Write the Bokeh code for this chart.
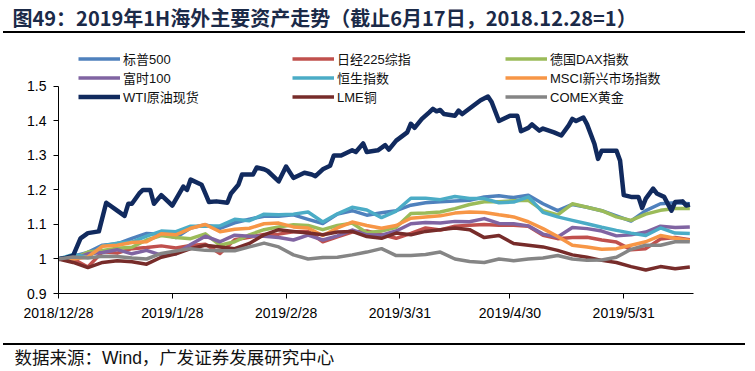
import pandas as pd
from bokeh.plotting import figure
from bokeh.models import (Range1d, FixedTicker, CustomJSTickFormatter, Legend,
                          LegendItem, ColumnDataSource, Div)
from bokeh.layouts import column
from bokeh.embed import file_html
from bokeh.resources import INLINE
from bokeh.core.properties import value

TITLE = "图49：2019年1H海外主要资产走势（截止6月17日，2018.12.28=1）"
SOURCE = "数据来源：Wind，广发证券发展研究中心"

grid_dates = [
    "2018-12-28", "2019-01-01", "2019-01-05", "2019-01-09", "2019-01-13", "2019-01-17", "2019-01-21", "2019-01-25", "2019-01-29", "2019-02-02", "2019-02-06",
    "2019-02-10", "2019-02-14", "2019-02-18", "2019-02-22", "2019-02-26", "2019-03-02", "2019-03-06", "2019-03-10", "2019-03-14", "2019-03-18", "2019-03-22",
    "2019-03-26", "2019-03-30", "2019-04-03", "2019-04-07", "2019-04-11", "2019-04-15", "2019-04-19", "2019-04-23", "2019-04-27", "2019-05-01", "2019-05-05",
    "2019-05-09", "2019-05-13", "2019-05-17", "2019-05-21", "2019-05-25", "2019-05-29", "2019-06-02", "2019-06-06", "2019-06-10", "2019-06-14", "2019-06-18",
]

sp500 = [
    1.000, 1.008, 1.019, 1.040, 1.044, 1.060, 1.074, 1.072, 1.062, 1.090, 1.099,
    1.089, 1.105, 1.115, 1.124, 1.124, 1.128, 1.115, 1.103, 1.130, 1.140, 1.127,
    1.134, 1.140, 1.156, 1.163, 1.166, 1.168, 1.170, 1.180, 1.183, 1.178, 1.185,
    1.160, 1.140, 1.158, 1.150, 1.140, 1.125, 1.110, 1.140, 1.160, 1.163, 1.160,
]
nikkei = [
    1.000, 1.000, 0.977, 1.021, 1.017, 1.030, 1.033, 1.038, 1.032, 1.039, 1.043,
    1.016, 1.056, 1.063, 1.071, 1.072, 1.079, 1.080, 1.050, 1.064, 1.078, 1.081,
    1.071, 1.060, 1.074, 1.090, 1.084, 1.095, 1.098, 1.100, 1.098, 1.098, 1.095,
    1.069, 1.059, 1.062, 1.063, 1.055, 1.049, 1.027, 1.030, 1.058, 1.062, 1.056,
]
dax = [
    1.000, 1.000, 1.020, 1.025, 1.031, 1.034, 1.055, 1.068, 1.062, 1.059, 1.073,
    1.040, 1.050, 1.070, 1.085, 1.093, 1.099, 1.097, 1.085, 1.097, 1.104, 1.076,
    1.081, 1.092, 1.132, 1.133, 1.136, 1.146, 1.158, 1.166, 1.166, 1.169, 1.170,
    1.140, 1.128, 1.160, 1.150, 1.140, 1.122, 1.112, 1.130, 1.141, 1.146, 1.146,
]
ftse = [
    1.000, 1.000, 1.015, 1.019, 1.027, 1.015, 1.025, 1.011, 1.015, 1.042, 1.066,
    1.050, 1.069, 1.066, 1.066, 1.062, 1.055, 1.069, 1.055, 1.067, 1.084, 1.070,
    1.069, 1.081, 1.102, 1.106, 1.104, 1.109, 1.108, 1.117, 1.103, 1.102, 1.096,
    1.072, 1.064, 1.091, 1.088, 1.081, 1.067, 1.070, 1.078, 1.095, 1.091, 1.093,
]
hsi = [
    1.000, 1.013, 1.005, 1.038, 1.046, 1.049, 1.066, 1.081, 1.079, 1.095, 1.095,
    1.096, 1.115, 1.111, 1.130, 1.128, 1.130, 1.136, 1.107, 1.131, 1.150, 1.142,
    1.120, 1.139, 1.176, 1.176, 1.172, 1.181, 1.175, 1.175, 1.163, 1.165, 1.180,
    1.135, 1.122, 1.112, 1.102, 1.092, 1.083, 1.075, 1.068, 1.090, 1.075, 1.074,
]
msci_em = [
    1.000, 1.000, 1.006, 1.037, 1.040, 1.048, 1.050, 1.073, 1.070, 1.089, 1.100,
    1.079, 1.086, 1.089, 1.102, 1.104, 1.093, 1.090, 1.068, 1.090, 1.107, 1.097,
    1.089, 1.097, 1.118, 1.122, 1.125, 1.133, 1.136, 1.135, 1.128, 1.122, 1.108,
    1.088, 1.065, 1.040, 1.035, 1.028, 1.030, 1.040, 1.050, 1.068, 1.060, 1.054,
]
lme_copper = [
    1.000, 0.990, 0.975, 0.990, 0.995, 0.992, 0.985, 1.005, 1.015, 1.030, 1.040,
    1.035, 1.030, 1.045, 1.070, 1.085, 1.080, 1.075, 1.070, 1.078, 1.080, 1.065,
    1.060, 1.075, 1.070, 1.080, 1.085, 1.090, 1.085, 1.062, 1.068, 1.045, 1.040,
    1.035, 1.025, 1.012, 1.005, 0.996, 0.990, 0.978, 0.968, 0.978, 0.972, 0.977,
]
comex_gold = [
    1.000, 1.006, 1.003, 1.008, 1.007, 1.003, 1.000, 1.016, 1.023, 1.030, 1.025,
    1.024, 1.024, 1.035, 1.046, 1.035, 1.012, 1.000, 1.004, 1.005, 1.012, 1.020,
    1.030, 1.010, 1.010, 1.013, 1.020, 1.000, 0.993, 0.990, 1.000, 0.995, 1.000,
    1.003, 1.010, 1.000, 0.996, 0.997, 1.005, 1.028, 1.040, 1.040, 1.050, 1.050,
]

wti_dates = [
    "2018-12-28", "2018-12-30", "2019-01-01", "2019-01-03", "2019-01-05", "2019-01-08", "2019-01-10", "2019-01-13", "2019-01-15", "2019-01-16",
    "2019-01-17", "2019-01-19", "2019-01-20", "2019-01-22", "2019-01-23", "2019-01-25", "2019-01-28", "2019-01-31", "2019-02-01", "2019-02-02",
    "2019-02-05", "2019-02-06", "2019-02-07", "2019-02-09", "2019-02-12", "2019-02-13", "2019-02-15", "2019-02-16", "2019-02-19", "2019-02-20",
    "2019-02-22", "2019-02-23", "2019-02-26", "2019-02-28", "2019-03-02", "2019-03-03", "2019-03-05", "2019-03-07", "2019-03-08", "2019-03-10",
    "2019-03-12", "2019-03-13", "2019-03-15", "2019-03-18", "2019-03-19", "2019-03-21", "2019-03-22", "2019-03-25", "2019-03-27", "2019-03-28",
    "2019-03-30", "2019-04-02", "2019-04-03", "2019-04-04", "2019-04-06", "2019-04-08", "2019-04-09", "2019-04-10", "2019-04-11", "2019-04-12",
    "2019-04-15", "2019-04-16", "2019-04-17", "2019-04-19", "2019-04-22", "2019-04-24", "2019-04-25", "2019-04-27", "2019-04-28", "2019-04-30",
    "2019-05-02", "2019-05-03", "2019-05-05", "2019-05-06", "2019-05-08", "2019-05-09", "2019-05-12", "2019-05-14", "2019-05-16", "2019-05-17",
    "2019-05-18", "2019-05-20", "2019-05-21", "2019-05-23", "2019-05-24", "2019-05-25", "2019-05-27", "2019-05-29", "2019-05-30", "2019-05-31",
    "2019-06-02", "2019-06-04", "2019-06-05", "2019-06-06", "2019-06-08", "2019-06-09", "2019-06-11", "2019-06-13", "2019-06-14", "2019-06-16",
    "2019-06-17", "2019-06-18",
]
wti_crude = [
    1.000, 1.003, 1.010, 1.060, 1.075, 1.080, 1.163, 1.140, 1.125, 1.160,
    1.160, 1.190, 1.200, 1.200, 1.160, 1.185, 1.155, 1.210, 1.200, 1.230,
    1.215, 1.190, 1.165, 1.167, 1.163, 1.190, 1.215, 1.245, 1.245, 1.265,
    1.260, 1.255, 1.225, 1.268, 1.235, 1.240, 1.250, 1.245, 1.240, 1.260,
    1.270, 1.300, 1.300, 1.315, 1.310, 1.335, 1.310, 1.315, 1.330, 1.317,
    1.343, 1.367, 1.392, 1.380, 1.406, 1.425, 1.435, 1.428, 1.432, 1.420,
    1.415, 1.430, 1.420, 1.436, 1.460, 1.471, 1.455, 1.400, 1.405, 1.415,
    1.415, 1.370, 1.380, 1.390, 1.372, 1.378, 1.367, 1.358, 1.387, 1.406,
    1.400, 1.410, 1.390, 1.334, 1.290, 1.314, 1.314, 1.314, 1.285, 1.185,
    1.180, 1.180, 1.148, 1.175, 1.204, 1.190, 1.180, 1.140, 1.165, 1.167,
    1.155, 1.158,
]

series_names = ["标普500", "日经225综指", "德国DAX指数", "富时100", "恒生指数",
                "MSCI新兴市场指数", "WTI原油现货", "LME铜", "COMEX黄金"]
series_colors = ["#4F81BD", "#C0504D", "#9BBB59", "#8064A2", "#4BACC6",
                 "#F79646", "#112A5E", "#772C2A", "#858585"]

x_tick_dates = ["2018-12-28", "2019-01-28", "2019-02-28", "2019-03-31", "2019-04-30", "2019-05-31"]
y_ticks = [0.9, 1.0, 1.1, 1.2, 1.3, 1.4, 1.5]
x_start, x_end = "2018-12-28", "2019-06-19"

W = 755
MIX = "Liberation Sans, Noto Sans CJK SC"
CJK = "Noto Sans CJK SC"


def no_align(f):
    try:
        f.frame_align = False
    except Exception:
        pass


def strip(height):
    f = figure(width=W, height=height, x_range=Range1d(0, W), y_range=Range1d(0, height),
               x_axis_location=None, y_axis_location=None, toolbar_location=None,
               output_backend="svg", min_border=0, outline_line_color=None)
    f.min_border_left = 0
    f.min_border_right = 0
    f.min_border_top = 0
    f.min_border_bottom = 0
    f.grid.visible = False
    no_align(f)
    return f


RULE_HTML = '<div style="height:0;width:742px;border-top:2px solid #000000;"></div>'


def rule():
    return Div(text=RULE_HTML, width=742, height=2, margin=(0, 10, 0, 3),
               styles={"background-color": "#000000"})


# ---------- title strip (31 px) + rule (2 px) ----------
tf = strip(31)
tf.text(x=[12], y=[14], text=[TITLE], text_font=value(CJK), text_font_style="bold",
        text_font_size="20px", text_color="#1B2A48", text_baseline="middle")
rule_top = rule()

# ---------- chart (page y 33 .. 323) ----------
p = figure(width=W, height=290, x_axis_type="datetime",
           x_range=Range1d(pd.Timestamp(x_start), pd.Timestamp(x_end)),
           y_range=Range1d(0.9, 1.61), toolbar_location=None, output_backend="svg",
           min_border_left=58, min_border_right=62, min_border_top=15, min_border_bottom=30,
           outline_line_color=None)
p.xgrid.visible = False
p.ygrid.visible = False
no_align(p)

gd = pd.to_datetime(grid_dates)
grid_series = [sp500, nikkei, dax, ftse, hsi, msci_em, None, lme_copper, comex_gold]
renderers = []
for name, vals, color in zip(series_names, grid_series, series_colors):
    if vals is None:
        src = ColumnDataSource(dict(x=pd.to_datetime(wti_dates), y=wti_crude))
        lw = 4.5
    else:
        src = ColumnDataSource(dict(x=gd, y=vals))
        lw = 3.5
    r = p.line("x", "y", source=src, line_color=color, line_width=lw, line_join="round")
    renderers.append(r)

leg_x = [20, 234, 447]
for c in range(3):
    items = [LegendItem(label=series_names[i], renderers=[renderers[i]]) for i in (c, c + 3, c + 6)]
    lg = Legend(items=items, location=(leg_x[c], 187), orientation="vertical",
                glyph_width=42, glyph_height=17, label_height=17, label_standoff=3,
                spacing=0, padding=0, margin=0, border_line_color=None,
                background_fill_alpha=0, label_text_font=MIX, label_text_font_size="13px",
                label_text_color="#111111")
    p.add_layout(lg)

ms = [pd.Timestamp(d).value // 10**6 for d in x_tick_dates]
p.xaxis.ticker = FixedTicker(ticks=ms)
p.xaxis.formatter = CustomJSTickFormatter(code="""
const d = new Date(tick);
return d.getUTCFullYear() + "/" + (d.getUTCMonth() + 1) + "/" + d.getUTCDate();
""")
p.yaxis.ticker = FixedTicker(ticks=y_ticks)
p.yaxis.formatter = CustomJSTickFormatter(code="return tick.toFixed(1).replace('.0', '');")
p.yaxis.bounds = (0.9, 1.5)
for ax in (p.xaxis[0], p.yaxis[0]):
    ax.axis_line_color = "#000000"
    ax.axis_line_width = 1
    ax.major_tick_line_color = "#000000"
    ax.major_tick_in = 0
    ax.major_tick_out = 5
    ax.minor_tick_line_color = None
    ax.major_label_text_font = "Liberation Sans"
    ax.major_label_text_font_size = "14px"
    ax.major_label_text_color = "#000000"
p.yaxis.major_label_standoff = 7
p.xaxis.major_label_standoff = 6

# ---------- gap (20 px), rule (2 px), footer (26 px) ----------
gap = strip(20)
rule_bottom = rule()
ff = strip(26)
ff.text(x=[14], y=[14], text=[SOURCE], text_font=value(MIX), text_font_size="17.5px",
        text_color="#111111", text_baseline="middle")

layout = column(tf, rule_top, p, gap, rule_bottom, ff, spacing=0)
open("out.html", "w").write(file_html(layout, INLINE, title="chart"))
